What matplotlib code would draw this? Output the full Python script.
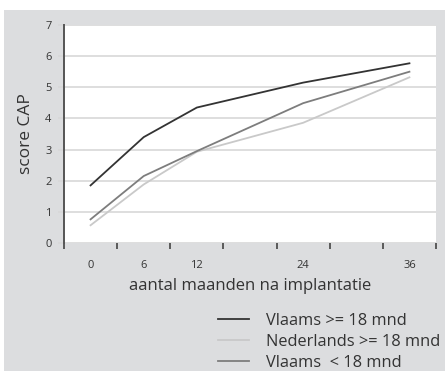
import matplotlib
matplotlib.use("Agg")
import matplotlib.pyplot as plt
from matplotlib.patches import Rectangle

# data
maanden = [0, 6, 12, 24, 36]
vlaams_oud = [1.85, 3.4, 4.35, 5.15, 5.77]
nederlands_oud = [0.57, 1.88, 2.93, 3.86, 5.32]
vlaams_jong = [0.76, 2.15, 2.95, 4.49, 5.5]
series_labels = ['Vlaams >= 18 mnd', 'Nederlands >= 18 mnd', 'Vlaams  < 18 mnd']
kleuren = ['#333333', '#c9c9c9', '#7d7d7d']

plt.rcParams['font.family'] = ['Open Sans', 'DejaVu Sans']
tekst = '#333333'

fig = plt.figure(figsize=(4.45, 3.71), dpi=100)
fig.patch.set_facecolor('white')
# grey panel behind everything
fig.patches.append(Rectangle((4 / 445, 0), 441 / 445, 361 / 371,
                             transform=fig.transFigure, facecolor='#dcdddf',
                             edgecolor='none', zorder=-1))

ax = fig.add_axes([64 / 445, 1 - 243 / 371, 372 / 445, 218 / 371])
ax.set_facecolor('white')

lijnen = []
for y, kleur, lab in zip([vlaams_oud, nederlands_oud, vlaams_jong], kleuren, series_labels):
    l, = ax.plot(maanden, y, color=kleur, lw=1.3, label=lab)
    lijnen.append(l)

ax.set_xlim(-3, 39)
ax.set_ylim(0, 7)
ax.set_yticks(range(0, 8))
ax.grid(axis='y', color='#d8d8d8', lw=1.2)
ax.set_axisbelow(True)

ax.set_xticks(maanden)
ax.set_xticklabels([str(m) for m in maanden])
ax.set_xticks(range(-3, 40, 6), minor=True)
ax.tick_params(axis='x', which='major', length=0, pad=12, labelsize=8, colors=tekst)
ax.tick_params(axis='x', which='minor', length=4, width=1.2, color='#444444', direction='out')
ax.tick_params(axis='y', length=4, width=1.2, color='#d8d8d8', pad=5, labelsize=8, labelcolor=tekst)

for s in ['top', 'right', 'bottom']:
    ax.spines[s].set_visible(False)
ax.spines['left'].set_color('#555555')
ax.spines['left'].set_linewidth(1.4)

ax.set_ylabel('score CAP', fontsize=12.5, color=tekst, labelpad=8)
ax.set_xlabel('aantal maanden na implantatie', fontsize=12, color=tekst, labelpad=5)

fig.legend(handles=lijnen, loc='upper left', bbox_to_anchor=(218 / 445, 1 - 313 / 371),
           frameon=False, fontsize=11.8, labelcolor=tekst, handlelength=1.9,
           handletextpad=1.0, labelspacing=0.3, borderaxespad=0, borderpad=0)

fig.savefig('out.png', dpi=100)
